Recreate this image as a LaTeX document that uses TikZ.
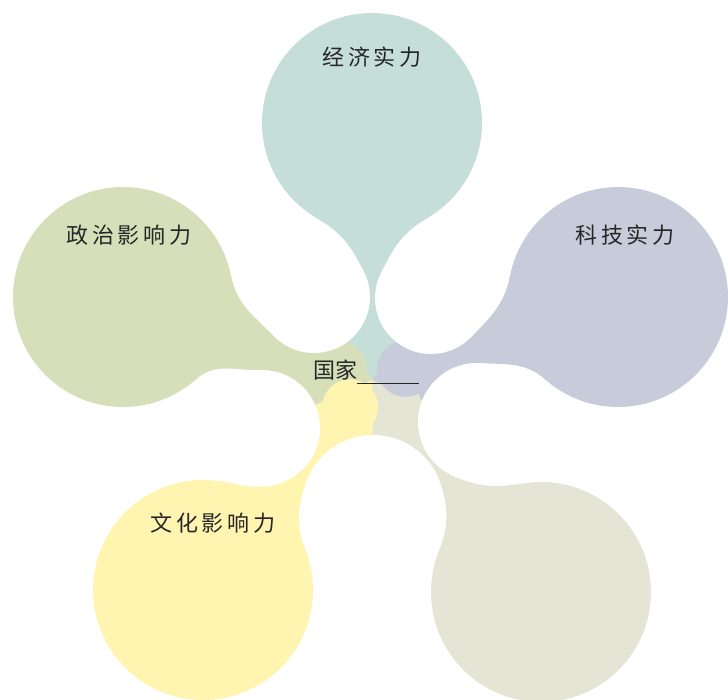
\documentclass[tikz,border=0pt]{standalone}
\usepackage{fontspec}
\newfontfamily\kaiti[LetterSpace=18]{Noto Sans CJK SC}
\newfontfamily\heiti{Noto Sans CJK SC}
\usetikzlibrary{calc}

\definecolor{jingjic}{RGB}{197,222,216}
\definecolor{kejic}{RGB}{200,204,218}
\definecolor{kongc}{RGB}{229,229,214}
\definecolor{wenhuac}{RGB}{255,245,176}
\definecolor{zhengzhic}{RGB}{214,223,185}

% neck of a petal: white circle (#2,#3) radius #4, petal circle (#5,#6) radius 110
\newcommand{\filletpts}[6]{%
  \pgfmathsetmacro\fdx{#5-#2}%
  \pgfmathsetmacro\fdy{#6-#3}%
  \pgfmathsetmacro\fwp{atan2(\fdy,\fdx)}%
  \pgfmathsetmacro\fs{(\fdx/100)*(380-#3)-(\fdy/100)*(372-#2)>0 ? 1 : -1}%
  \pgfmathsetmacro\ft{\fwp+\fs*45}%
  \pgfmathsetmacro\fpc{atan2(380-#6,372-#5)}%
  \pgfmathsetmacro\fsig{((372-#5)/100)*(#3-#6)-((380-#6)/100)*(#2-#5)>0 ? 1 : -1}%
  \pgfmathsetmacro\fk{\fpc+\fsig*30}%
  \pgfmathsetmacro\fl{0.4*veclen(#5+110*cos(\fk)-#2-#4*cos(\ft),#6+110*sin(\fk)-#3-#4*sin(\ft))}%
  \coordinate (#1t) at ({#2+#4*cos(\ft)},{#3+#4*sin(\ft)});
  \coordinate (#1k) at ({#5+110*cos(\fk)},{#6+110*sin(\fk)});
  \coordinate (#1c) at ($(#1t)+({\fs*\fl*sin(\ft)},{0-\fs*\fl*cos(\ft)})$);
  \coordinate (#1d) at ($(#1k)+({\fsig*\fl*sin(\fk)},{0-\fsig*\fl*cos(\fk)})$);
}

\begin{document}
\begin{tikzpicture}[x=1pt,y=-1pt,
    ptext/.style={font=\kaiti\fontsize{22}{26}\selectfont,text=black!85}]
%\draw[help lines] (0,0) grid[step=50] (728,700);
\useasboundingbox (0,0) rectangle (728,700);
\coordinate (O) at (372,380);
\foreach \pname/\px/\py/\ax/\ay/\ar/\bx/\by/\br in {
    jingji/372/123/314/297/56/431/298/56,
    keji/618/297/431/298/56/477/422/59,
    kong/541/592/477/422/59/373/506/71,
    wenhua/203/590/373/506/71/262/428/58,
    zhengzhi/123/297/262/428/58/314/297/56}{
  \filletpts{\pname a}{\ax}{\ay}{\ar}{\px}{\py}
  \filletpts{\pname b}{\bx}{\by}{\br}{\px}{\py}
  \fill[\pname c] (O) -- (\ax,\ay) -- (\pname at)
      .. controls (\pname ac) and (\pname ad) .. (\pname ak) -- (\pname bk)
      .. controls (\pname bd) and (\pname bc) .. (\pname bt) -- (\bx,\by) -- cycle;
  \fill[\pname c] (\px,\py) circle[radius=110pt];
}
\foreach \pname/\px/\py in {jingji/372/123,kong/541/592,keji/618/297,
    zhengzhi/123/297,wenhua/203/590}
  \fill[\pname c] ($(O)!35pt!(\px,\py)$) circle[radius=28pt];
\foreach \wx/\wy/\wr in {314/297/56,431/298/56,477/422/59,373/506/71,262/428/58}
  \fill[white] (\wx,\wy) circle[radius=\wr pt];

\node[ptext] (jingji) at (372,57) {经济实力};
\node[ptext] (keji) at (625,235) {科技实力};
\node[ptext] (zhengzhi) at (129,235) {政治影响力};
\node[ptext] (wenhua) at (213,523) {文化影响力};
\node[anchor=base west,inner sep=0,font=\heiti\fontsize{22}{26}\selectfont,text=black!85]
    (guojia) at (313,378) {国家\rule[-5.5pt]{62pt}{0.8pt}};
\end{tikzpicture}
\end{document}
